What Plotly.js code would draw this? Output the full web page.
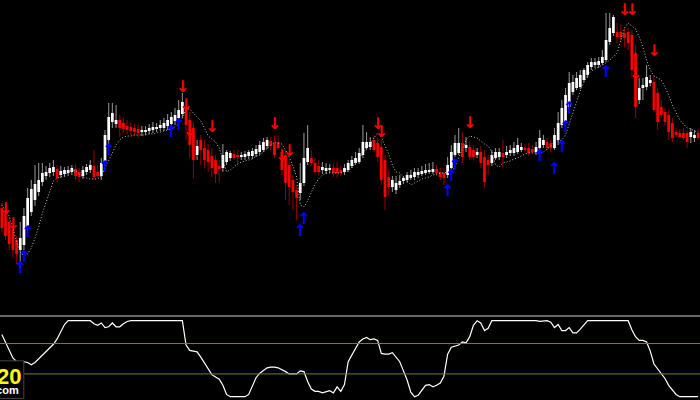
<!DOCTYPE html>
<html>
<head>
<meta charset="utf-8">
<script src="https://cdn.plot.ly/plotly-3.0.1.min.js"></script>
<style>html,body{margin:0;padding:0;background:#000;}#chart{width:700px;height:400px;}</style>
</head>
<body>
<div id="chart"></div>
<script>
// ---- data (bar index 0..189) ----
const open = [
92,86,78,70,60,50,55,72,88,100,
108,118,124,127,128,131,125,126,127,128,
131,128,124,128,130,134,128,124,138,160,
178,176,180,177,174,173,172,171,168,168,
169,170,171,172,172,174,176,179,182,186,
192,180,172,145,160,152,150,144,140,134,
132,138,142,146,145,143,143,144,144,146,
148,150,154,159,157,158,148,145,135,120,
110,107,117,138,142,137,134,130,129,130,
132,132,130,128,130,134,137,138,145,152,
153,160,157,153,140,123,113,110,115,119,
120,122,123,125,126,127,128,128,131,128,
127,125,132,145,147,157,152,153,150,145,
148,143,140,137,142,143,147,145,147,147,
148,150,152,152,151,148,152,155,158,157,
152,160,175,178,193,208,212,213,220,225,
233,235,235,237,240,258,267,268,268,267,
268,265,247,200,212,213,217,218,207,193,
188,185,177,168,167,167,167,163,162,167];
const high = [
97,91,83,74,64,78,92,112,120,135,
137,137,134,137,140,135,134,133,134,135,
136,132,134,136,140,150,135,142,170,197,
197,195,185,182,180,178,176,175,174,174,
176,178,177,180,182,186,188,192,200,207,
202,188,178,160,165,160,156,152,145,140,
156,150,149,150,150,148,149,150,152,155,
159,162,163,163,164,164,152,150,140,125,
115,137,167,175,150,142,140,138,137,136,
137,138,135,136,140,144,148,152,175,168,
163,165,162,160,145,130,124,124,125,124,
128,130,132,132,134,136,137,138,135,132,
132,143,155,165,172,168,163,158,155,152,
154,150,145,150,152,152,160,154,155,158,
162,157,156,157,155,158,170,165,162,160,
172,188,200,212,228,225,228,230,232,238,
242,242,243,250,287,287,285,277,276,272,
272,270,255,222,222,235,225,225,212,200,
192,190,182,172,171,172,170,172,170,171];
const low = [
68,60,50,42,36,32,50,67,84,94,
104,114,120,123,124,118,122,123,124,125,
120,118,121,125,127,120,122,120,134,155,
172,172,163,167,166,165,164,162,164,165,
166,167,168,169,169,170,172,175,178,182,
160,142,122,140,135,132,128,123,117,118,
128,135,139,140,135,140,140,141,141,143,
145,148,151,150,142,150,125,100,95,90,
80,100,114,135,134,125,125,126,126,127,
123,122,124,125,128,132,135,136,142,150,
150,148,138,115,90,105,108,106,112,116,
117,120,120,122,124,125,126,126,124,120,
115,122,130,143,145,137,148,140,140,142,
132,113,125,134,140,140,132,142,144,144,
146,148,148,144,147,145,150,152,150,148,
150,155,172,176,190,205,210,211,218,222,
230,232,232,235,238,255,264,257,258,253,
250,223,182,196,200,210,214,188,170,182,
175,160,158,163,162,160,152,157,158,160];
const close = [
72,64,56,50,46,62,84,102,111,116,
120,127,128,132,133,122,129,130,130,132,
124,123,130,133,135,123,124,137,165,183,
187,180,172,171,170,169,168,167,170,170,
172,173,173,175,177,180,183,185,190,198,
175,155,140,154,150,140,138,132,126,131,
145,148,147,142,143,145,146,148,149,151,
155,158,160,154,145,152,130,117,113,108,
102,117,142,152,137,128,128,133,132,132,
127,127,127,132,137,140,142,147,158,158,
158,150,143,120,103,113,120,117,119,122,
125,125,128,128,129,130,130,131,127,123,
122,135,148,157,157,143,155,143,143,148,
137,118,135,145,148,148,143,148,150,152,
155,153,150,147,148,153,162,160,152,152,
165,177,192,205,217,218,222,225,230,235,
238,238,239,243,260,272,283,263,263,262,
257,230,193,212,215,223,220,190,178,185,
178,168,162,165,163,162,158,168,165,162];
const trail = [
95,90,84,72,58,48,44,46,52,62,
73,87,98,110,119,122,123,124,128,130,
129,126,123,122,121,121,121,124,132,139,
148,155,160,163,164,164,165,165,165,165,
166,166,167,168,169,170,171,173,176,182,
191,191,187,183,179,172,164,161,158,152,
140,128,130,133,136,138,139,140,141,144,
145,148,152,155,158,157,156,150,143,134,
123,95,93,99,107,116,121,125,127,127,
127,127,127,128,129,132,138,142,147,152,
157,162,167,163,155,146,135,128,127,123,
118,115,117,119,121,122,123,125,126,127,
127,128,129,133,142,150,160,164,163,162,
159,156,154,148,135,133,137,138,139,141,
142,144,146,147,147,147,147,148,151,154,
158,159,160,165,176,188,199,209,218,225,
229,231,233,235,237,240,243,247,259,272,
277,274,271,263,253,240,230,224,222,220,
213,205,195,187,180,176,172,171,169,168];
const osc = [
82,72,61,51,46,46,46,45,42,45,
50,55,60,64,69,76,86,95,100,100,
100,100,100,100,100,96,94,97,91,92,
97,92,92,96,99,100,100,100,100,100,
100,100,100,100,100,100,100,100,100,100,
68,61,60,59,52,44,36,29,26,23,
15,3,0,0,0,0,0,3,14,25,
31,35,38,39,39,38,36,33,30,30,
30,34,33,20,10,7,7,5,7,8,
5,13,7,16,46,55,63,72,76,78,
75,76,74,57,56,56,58,52,46,34,
22,6,0,2,9,15,16,13,15,18,
27,56,65,66,68,72,71,79,94,100,
97,87,90,100,100,100,100,100,100,100,
100,100,100,100,100,100,99,100,100,98,
91,95,87,87,91,84,84,89,95,100,
100,100,100,100,100,100,100,100,100,100,
100,88,79,74,74,72,60,43,37,31,
24,15,9,3,0,0,0,0,0,0];
const oscLevels = [70, 30];
const downArrowBar   = [1,3,49,50,51,57,74,76,78,102,103,127,169,171,172,177];
const downArrowPrice = [90,75,212,194,168,172,175,143,148,175,167,176,289,289,225,248];
const upArrowBar   = [5,6,7,28,29,46,48,81,82,121,122,123,146,150,152,153,154,164];
const upArrowPrice = [31,42,67,132,149,167,174,68,80,108,123,134,143,130,152,172,191,227];

// ---- build traces ----
const idx = open.map((_, i) => i);
const bull = open.map((o, i) => close[i] >= o);
const wick = {
  type: 'bar', x: idx, base: low, y: high.map((h, i) => h - low[i]),
  width: 0.3, marker: {color: bull.map(b => b ? '#8c8c8c' : '#8b0000'), line: {width: 0}},
  hoverinfo: 'skip', xaxis: 'x', yaxis: 'y'
};
const body = {
  type: 'bar', x: idx, base: open.map((o, i) => Math.min(o, close[i])),
  y: open.map((o, i) => Math.max(Math.abs(close[i] - o), 1)),
  width: 0.74, marker: {color: bull.map(b => b ? '#ffffff' : '#ff0000'), line: {width: 0}},
  hoverinfo: 'skip', xaxis: 'x', yaxis: 'y'
};
const trailLine = {
  type: 'scatter', mode: 'lines', x: idx, y: trail,
  line: {color: '#bdbdbd', width: 1, dash: '1px,2px'}, hoverinfo: 'skip', xaxis: 'x', yaxis: 'y'
};
const downArrows = {
  type: 'scatter', mode: 'text', x: downArrowBar, y: downArrowPrice,
  text: downArrowBar.map(() => '<b>↓</b>'), textposition: 'middle center',
  textfont: {color: '#ff0000', size: 16, family: 'DejaVu Sans'}, hoverinfo: 'skip', xaxis: 'x', yaxis: 'y'
};
const upArrows = {
  type: 'scatter', mode: 'text', x: upArrowBar, y: upArrowPrice,
  text: upArrowBar.map(() => '<b>↑</b>'), textposition: 'middle center',
  textfont: {color: '#0000ff', size: 16, family: 'DejaVu Sans'}, hoverinfo: 'skip', xaxis: 'x', yaxis: 'y'
};
const oscLine = {
  type: 'scatter', mode: 'lines', x: idx, y: osc,
  line: {color: '#ffffff', width: 1.2}, hoverinfo: 'skip', xaxis: 'x', yaxis: 'y2'
};

const shapes = [
  {type: 'line', xref: 'paper', yref: 'paper', x0: 0, x1: 1, y0: 0.21, y1: 0.21,
   line: {color: '#8a8a8a', width: 1.6}}
].concat(oscLevels.map(v => ({
  type: 'line', xref: 'paper', yref: 'y2', x0: 0, x1: 1, y0: v, y1: v,
  line: {color: '#808000', width: 1}
}))).concat([
  {type: 'rect', xref: 'paper', yref: 'paper', x0: -0.01, x1: 0.034, y0: 0.004, y1: 0.098,
   fillcolor: '#000000', line: {color: '#444444', width: 1}, layer: 'above'}
]);

const layout = {
  width: 700, height: 400,
  margin: {l: 0, r: 0, t: 0, b: 0, pad: 0},
  paper_bgcolor: '#000000', plot_bgcolor: '#000000',
  showlegend: false, barmode: 'overlay',
  xaxis: {range: [-0.5, 189.5], visible: false, fixedrange: true},
  yaxis: {domain: [0.21, 1], range: [-16, 300], visible: false, fixedrange: true},
  yaxis2: {domain: [0, 0.21], range: [-4.34, 106.18], visible: false, fixedrange: true},
  shapes: shapes,
  annotations: [
    {xref: 'paper', yref: 'paper', x: 0.033, y: 0.06, xanchor: 'right', yanchor: 'middle',
     text: '<b>20</b>', showarrow: false,
     font: {family: 'Liberation Sans, Arial', size: 22, color: '#ffff00'}},
    {xref: 'paper', yref: 'paper', x: 0.03, y: 0.024, xanchor: 'right', yanchor: 'middle',
     text: '<b>.com</b>', showarrow: false,
     font: {family: 'Liberation Sans, Arial', size: 11, color: '#ffffff'}}
  ]
};

Plotly.newPlot('chart', [wick, body, trailLine, downArrows, upArrows, oscLine], layout,
  {staticPlot: true, displayModeBar: false});
</script>
</body>
</html>
